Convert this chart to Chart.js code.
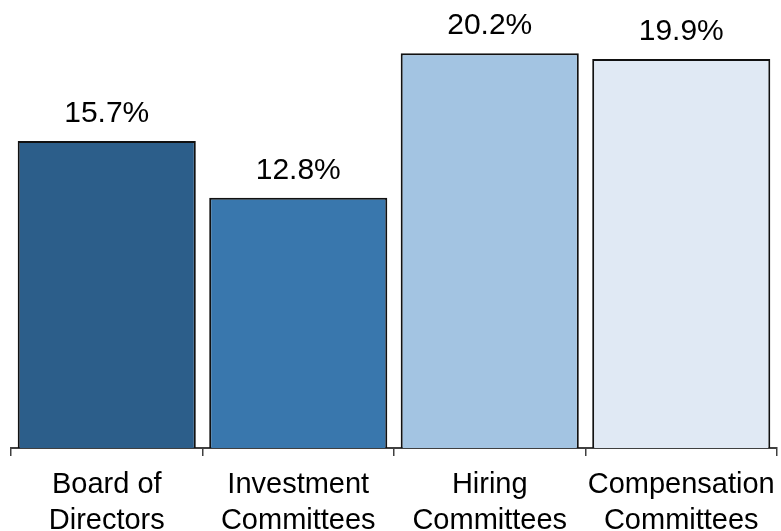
<!DOCTYPE html>
<html lang="en">
<head>
  <meta charset="utf-8">
  <title>Committee Share</title>
  <style>
    html, body { margin: 0; padding: 0; background: #ffffff; overflow: hidden; }
    #wrap { width: 781px; height: 531px; overflow: hidden; }
  </style>
  <script src="https://cdn.jsdelivr.net/npm/chart.js"></script>
</head>
<body>
  <div id="wrap"><canvas id="shareChart" width="781" height="531"></canvas></div>
  <script>
    const categories = [['Board of', 'Directors'], ['Investment', 'Committees'], ['Hiring', 'Committees'], ['Compensation', 'Committees']];
    const shares = [15.7, 12.8, 20.2, 19.9];
    const barColors = ['#2c5e8a', '#3977ad', '#a3c4e2', '#e0e9f4'];

    // percentage printed above each bar
    const valueLabels = {
      id: 'valueLabels',
      afterDatasetsDraw(chart) {
        const ctx = chart.ctx;
        const meta = chart.getDatasetMeta(0);
        ctx.save();
        ctx.font = '30px "Liberation Sans", Arial, sans-serif';
        ctx.fillStyle = '#000';
        ctx.textAlign = 'center';
        ctx.textBaseline = 'alphabetic';
        meta.data.forEach((bar, i) => {
          ctx.fillText(shares[i].toFixed(1) + '%', bar.x, bar.y - 19);
        });
        ctx.restore();
      }
    };

    new Chart(document.getElementById('shareChart'), {
      type: 'bar',
      data: {
        labels: categories,
        datasets: [{
          data: shares,
          backgroundColor: barColors,
          borderColor: '#111111',
          borderWidth: 2,
          categoryPercentage: 1,
          barPercentage: 0.93
        }]
      },
      options: {
        responsive: false,
        animation: false,
        layout: { padding: { left: 11, right: 4, top: 0, bottom: 0 } },
        plugins: { legend: { display: false }, tooltip: { enabled: false } },
        scales: {
          y: { display: false, min: 0, max: 22.92 },
          x: {
            offset: true,
            grid: { offset: true, drawOnChartArea: false, drawTicks: true, tickLength: 8, color: '#404040', lineWidth: 1.5 },
            border: { display: true, color: '#404040', width: 2 },
            ticks: {
              color: '#000',
              padding: 11,
              maxRotation: 0,
              autoSkip: false,
              font: { family: '"Liberation Sans", Arial, sans-serif', size: 29, lineHeight: 1.24 }
            },
            // fixed axis band; the second label line is allowed to run off the bottom
            afterFit(scale) {
              scale.height = 83;
              scale.paddingLeft = 0;
              scale.paddingRight = 0;
            }
          }
        }
      },
      plugins: [valueLabels]
    });
  </script>
</body>
</html>
